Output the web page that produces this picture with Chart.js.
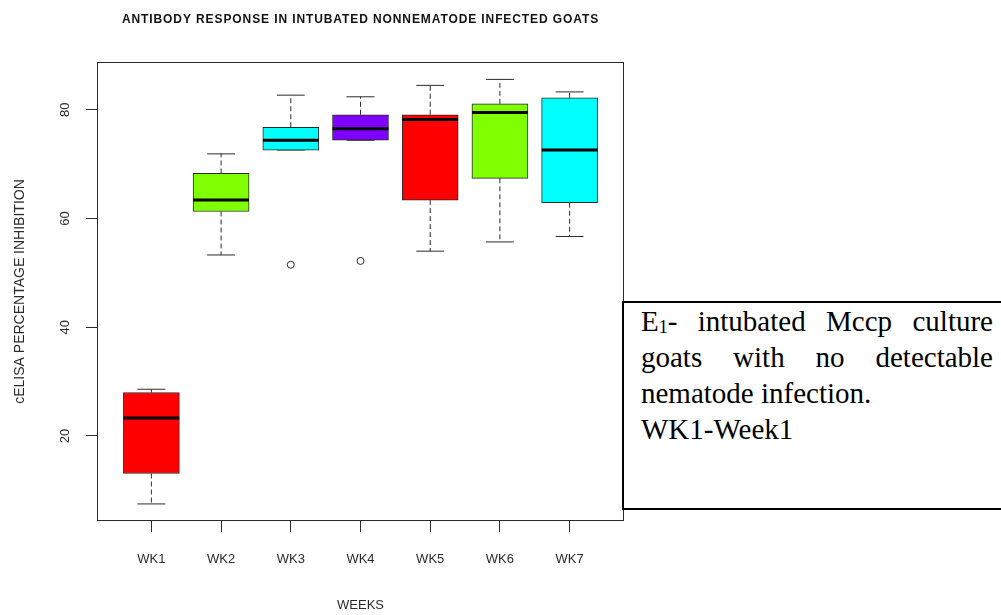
<!DOCTYPE html>
<html>
<head>
<meta charset="utf-8">
<title>Antibody response in intubated nonnematode infected goats</title>
<script src="https://cdn.jsdelivr.net/npm/chart.js@4.4.1/dist/chart.umd.min.js"></script>
<style>
  html, body { margin: 0; padding: 0; background: #fff; overflow: hidden; }
  #wrap { position: relative; width: 1001px; height: 615px; }
  #chart { position: absolute; left: 0; top: 0; }
  #note {
    position: absolute; left: 622px; top: 301px; width: 420px; height: 209px;
    box-sizing: border-box; border: 2px solid #000; background: #fff;
    padding: 1.4px 0 0 17px;
    font-family: "Liberation Serif", "Times New Roman", serif; font-size: 29px;
    line-height: 35.7px; color: #000;
  }
  #note .line { width: 352px; white-space: nowrap; }
  #note .just { text-align: justify; text-align-last: justify; white-space: normal; }
  #note sub { font-size: 0.62em; line-height: 0; vertical-align: -0.12em; }
</style>
</head>
<body>
<div id="wrap">
  <canvas id="chart" width="1001" height="615"></canvas>
  <div id="note">
    <div class="line just">E<sub>1</sub>- intubated Mccp culture</div>
    <div class="line just">goats with no detectable</div>
    <div class="line">nematode infection.</div>
    <div class="line">WK1-Week1</div>
  </div>
</div>
<script>
// Weekly cELISA percentage inhibition, five-number summaries per week
const weeks       = ['WK1', 'WK2', 'WK3', 'WK4', 'WK5', 'WK6', 'WK7'];
const whiskerLow  = [7.5, 53.3, 72.6, 74.4, 54.0, 55.7, 56.7];
const lowerQuart  = [13.1, 61.3, 72.6, 74.4, 63.4, 67.4, 62.9];
const medians     = [23.3, 63.4, 74.4, 76.5, 78.2, 79.5, 72.6];
const upperQuart  = [28.0, 68.3, 76.8, 79.1, 79.1, 81.1, 82.2];
const whiskerHigh = [28.6, 71.9, 82.7, 82.4, 84.5, 85.6, 83.3];
const outliers    = [[], [], [51.5], [52.2], [], [], []];
const boxColors   = ['#FF0000', '#7FFF00', '#00FFFF', '#7F00FF', '#FF0000', '#7FFF00', '#00FFFF'];
const yTickValues = [20, 40, 60, 80];

const chartTitle = 'ANTIBODY RESPONSE IN INTUBATED NONNEMATODE INFECTED GOATS';
const xTitle = 'WEEKS';
const yTitle = 'cELISA PERCENTAGE INHIBITION';

const INK = '#2b2b2b';
const BOX_HALF = 0.4;   // half box width, in category units
const CAP_HALF = 0.2;   // half whisker-cap width, in category units

function segment(points, style, order) {
  return Object.assign({
    type: 'line',
    data: points.map(p => ({ x: p[0], y: p[1] })),
    pointRadius: 0,
    fill: false,
    tension: 0,
    borderColor: INK,
    borderWidth: 1,
    borderCapStyle: 'butt',
    order: order
  }, style);
}

const datasets = [];
weeks.forEach((wk, i) => {
  const x = i + 1;
  const dashed = { borderDash: [5, 3] };
  datasets.push(segment([[x, upperQuart[i]], [x, whiskerHigh[i]]], dashed, 4));
  datasets.push(segment([[x, lowerQuart[i]], [x, whiskerLow[i]]], dashed, 4));
  datasets.push(segment([[x - CAP_HALF, whiskerHigh[i]], [x + CAP_HALF, whiskerHigh[i]]], {}, 4));
  datasets.push(segment([[x - CAP_HALF, whiskerLow[i]], [x + CAP_HALF, whiskerLow[i]]], {}, 4));
  datasets.push(segment([[x - BOX_HALF, medians[i]], [x + BOX_HALF, medians[i]]],
    { borderColor: '#000', borderWidth: 3 }, 1));
});

datasets.push({
  type: 'bar',
  data: weeks.map((wk, i) => ({ x: i + 1, y: [lowerQuart[i], upperQuart[i]] })),
  backgroundColor: boxColors,
  borderColor: INK,
  borderWidth: 1,
  borderSkipped: false,
  barThickness: 56,
  grouped: false,
  order: 2
});

const outlierPoints = [];
outliers.forEach((vals, i) => vals.forEach(v => outlierPoints.push({ x: i + 1, y: v })));
datasets.push({
  type: 'scatter',
  data: outlierPoints,
  pointStyle: 'circle',
  pointRadius: 3.5,
  pointBackgroundColor: '#fff',
  pointBorderColor: INK,
  pointBorderWidth: 1,
  order: 0
});

// Frame, titles and tick labels, placed with the chart's own scales
const labelsPlugin = {
  id: 'labelsPlugin',
  afterDraw(chart) {
    const { ctx, chartArea: a, scales } = chart;
    const xs = scales.x, ys = scales.y;
    ctx.save();
    ctx.strokeStyle = INK;
    ctx.lineWidth = 1;
    ctx.strokeRect(a.left + 0.5, a.top + 0.5, a.right - a.left - 1, a.bottom - a.top - 1);

    // main title
    ctx.fillStyle = '#111';
    ctx.font = 'bold 12px "Liberation Sans", Arial, sans-serif';
    ctx.letterSpacing = '0.9px';
    ctx.textAlign = 'center';
    ctx.textBaseline = 'alphabetic';
    ctx.fillText(chartTitle, (a.left + a.right) / 2, 22.5);
    ctx.letterSpacing = '0px';

    // category labels
    ctx.fillStyle = INK;
    ctx.font = '13px "Liberation Sans", Arial, sans-serif';
    weeks.forEach((wk, i) => ctx.fillText(wk, xs.getPixelForValue(i + 1), 563));
    ctx.fillText(xTitle, (a.left + a.right) / 2, 609);

    // y tick labels, rotated
    yTickValues.forEach(v => {
      ctx.save();
      ctx.translate(69, ys.getPixelForValue(v));
      ctx.rotate(-Math.PI / 2);
      ctx.fillText(String(v), 0, 0);
      ctx.restore();
    });
    ctx.font = '14px "Liberation Sans", Arial, sans-serif';
    ctx.save();
    ctx.translate(24, (a.top + a.bottom) / 2);
    ctx.rotate(-Math.PI / 2);
    ctx.fillText(yTitle, 0, 0);
    ctx.restore();
    ctx.restore();
  }
};

new Chart(document.getElementById('chart'), {
  type: 'bar',
  data: { datasets },
  options: {
    responsive: false,
    animation: false,
    events: [],
    layout: { padding: { top: 62, right: 377, bottom: 0, left: 0 } },
    plugins: { legend: { display: false }, tooltip: { enabled: false }, title: { display: false } },
    scales: {
      x: {
        type: 'linear',
        min: 0.22, max: 7.78,
        offset: false,
        grid: { offset: false, display: true, drawOnChartArea: false, drawTicks: true, tickLength: 11, color: INK },
        border: { display: false },
        ticks: { display: false },
        afterBuildTicks: s => { s.ticks = weeks.map((w, i) => ({ value: i + 1 })); },
        afterFit: s => { s.height = 94; }
      },
      y: {
        type: 'linear',
        min: 4.36, max: 88.8,
        grid: { display: true, drawOnChartArea: false, drawTicks: true, tickLength: 11, color: INK },
        border: { display: false },
        ticks: { display: false },
        afterBuildTicks: s => { s.ticks = yTickValues.map(v => ({ value: v })); },
        afterFit: s => { s.width = 97; }
      }
    }
  },
  plugins: [labelsPlugin]
});
</script>
</body>
</html>
